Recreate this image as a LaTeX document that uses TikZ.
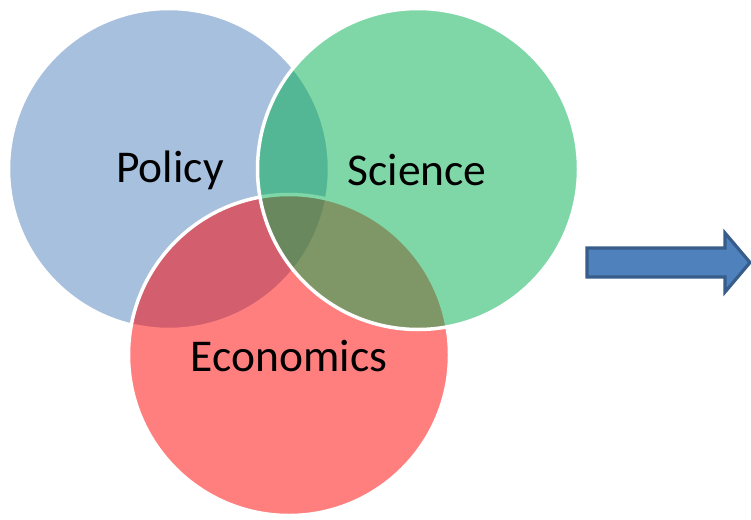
\documentclass[tikz,border=0pt]{standalone}
\usepackage{fontspec}
\setmainfont{Carlito}
\definecolor{polblue}{HTML}{4F81BD}
\definecolor{scigreen}{HTML}{00B050}
\definecolor{ecored}{HTML}{FF0000}
\definecolor{arrowedge}{HTML}{385D8A}
\tikzset{
  venn/.style={circle, minimum size=321pt, inner sep=0pt, draw=white, line width=3.5pt, fill opacity=0.5},
  vlabel/.style={font=\fontsize{45.5}{54}\selectfont, text=black}
}
\begin{document}
\begin{tikzpicture}[x=1pt,y=-1pt]
\useasboundingbox (0,0) rectangle (751,519);
\node[venn, fill=polblue] (policy) at (169,169) {};
\node[venn, fill=ecored] (econ) at (289,355) {};
\node[venn, fill=scigreen] (science) at (418,169) {};
\node[vlabel] (lpolicy) at (170,170) {Policy};
\node[vlabel] (lscience) at (417,170) {Science};
\node[vlabel] (lecon) at (289,356) {Economics};
\draw[fill=polblue, draw=arrowedge, line width=3.2pt, line join=miter]
  (587,248) -- (725,248) -- (725,233) -- (750,262.5) -- (725,292) -- (725,277) -- (587,277) -- cycle;
\end{tikzpicture}
\end{document}
